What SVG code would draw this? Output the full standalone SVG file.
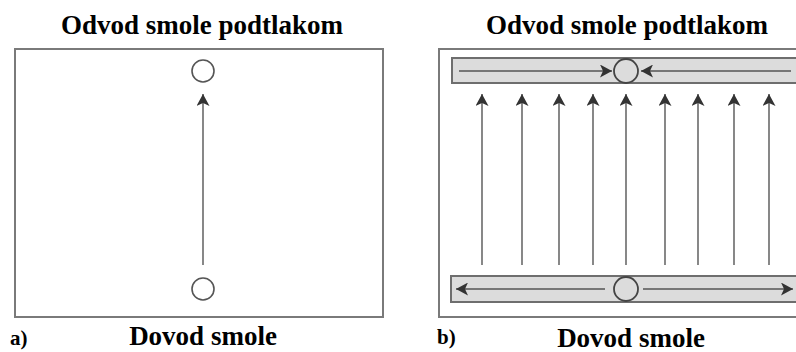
<svg xmlns="http://www.w3.org/2000/svg" width="796" height="352" viewBox="0 0 796 352">
<defs>
<marker id="ah" viewBox="0 0 12 13" refX="12" refY="6.5" markerWidth="12" markerHeight="13" markerUnits="userSpaceOnUse" orient="auto">
<path d="M0,0 L12,6.5 L0,13 L3,6.5 Z" fill="#333"/>
</marker>
</defs>
<style>
.title{font-family:"Liberation Serif","Times New Roman",serif;font-weight:bold;font-size:27px;fill:#000;text-anchor:middle}
.lab{font-family:"Liberation Serif","Times New Roman",serif;font-weight:bold;font-size:21px;fill:#000}
.frame{fill:#fff;stroke:#7a7a7a;stroke-width:2}
.chan{fill:#dcdcdc;stroke:#6e6e6e;stroke-width:2}
.port{fill:#fff;stroke:#555;stroke-width:1.6}
.portb{fill:#dcdcdc;stroke:#444;stroke-width:1.8}
.flow{stroke:#555;stroke-width:1.4;fill:none;marker-end:url(#ah)}
</style>
<rect width="796" height="352" fill="#fff"/>
<g id="panel-a">
<g id="a-frame"><rect class="frame" x="15" y="49" width="368" height="268"/></g>
<g id="a-title"><text class="title" x="202" y="34">Odvod smole podtlakom</text></g>
<g id="a-outlet"><circle class="port" cx="203" cy="71" r="11"/></g>
<g id="a-inlet"><circle class="port" cx="203" cy="289" r="11"/></g>
<g id="a-bottom-label"><text class="title" x="203" y="345">Dovod smole</text></g>
<g id="a-tag"><text class="lab" x="10" y="345">a)</text></g>
</g>
<g id="panel-b">
<g id="b-frame"><rect class="frame" x="439" y="49" width="370" height="268"/></g>
<g id="b-title"><text class="title" x="627" y="34">Odvod smole podtlakom</text></g>
<g id="b-top-channel"><rect class="chan" x="452" y="58" width="360" height="25"/></g>
<g id="b-bottom-channel"><rect class="chan" x="451" y="276" width="360" height="26"/></g>
<g id="b-outlet"><circle class="portb" cx="626" cy="71" r="12"/></g>
<g id="b-inlet"><circle class="portb" cx="626" cy="289" r="12"/></g>
<g id="b-bottom-label"><text class="title" x="631" y="347">Dovod smole</text></g>
<g id="b-tag"><text class="lab" x="437" y="344">b)</text></g>
</g>
<g id="connectors">
<line class="flow" x1="203" y1="265" x2="203" y2="94"/>
<line class="flow" x1="459" y1="71" x2="612" y2="71"/>
<line class="flow" x1="791" y1="71" x2="641" y2="71"/>
<line class="flow" x1="605" y1="289" x2="456" y2="289"/>
<line class="flow" x1="643" y1="289" x2="793" y2="289"/>
<line class="flow" x1="482" y1="265" x2="482" y2="94"/>
<line class="flow" x1="522" y1="265" x2="522" y2="94"/>
<line class="flow" x1="559" y1="265" x2="559" y2="94"/>
<line class="flow" x1="593" y1="265" x2="593" y2="94"/>
<line class="flow" x1="626" y1="265" x2="626" y2="94"/>
<line class="flow" x1="665" y1="265" x2="665" y2="94"/>
<line class="flow" x1="698" y1="265" x2="698" y2="94"/>
<line class="flow" x1="734" y1="265" x2="734" y2="94"/>
<line class="flow" x1="769" y1="265" x2="769" y2="94"/>
</g>
</svg>
